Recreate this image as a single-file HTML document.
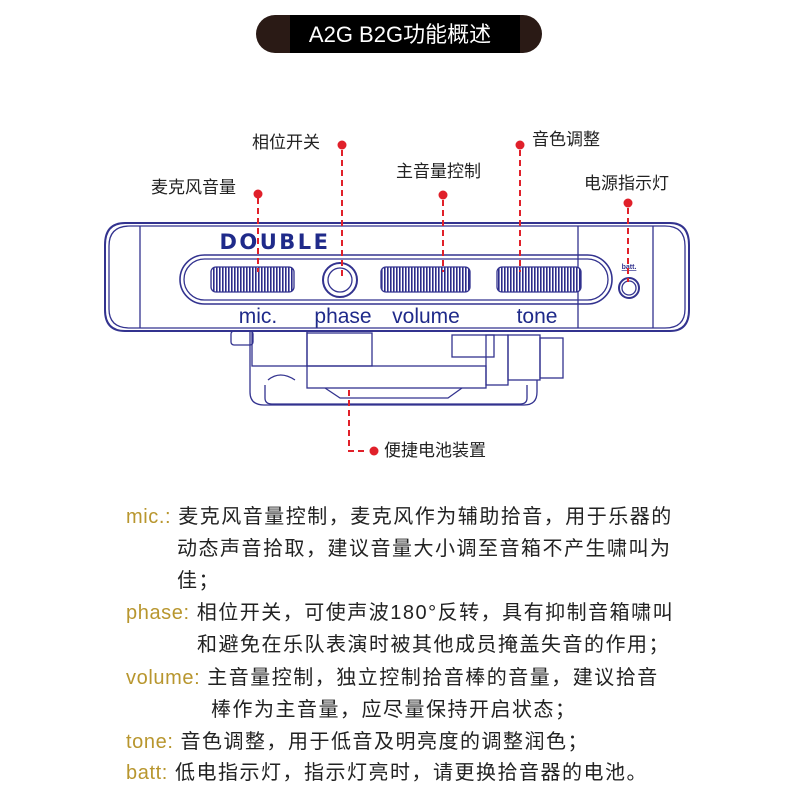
<!DOCTYPE html>
<html><head><meta charset="utf-8"><style>
body{margin:0;background:#fff;width:800px;height:800px;overflow:hidden;position:relative;font-family:"Liberation Sans","Noto Sans CJK SC",sans-serif}
.t{position:absolute;font-size:20px;color:#222;white-space:nowrap;line-height:1;letter-spacing:1.5px}
.g{color:#b8962e;letter-spacing:0.6px}
.l{position:absolute;font-size:17px;color:#222;white-space:nowrap;line-height:1}
</style></head><body>
<svg width="800" height="800" style="position:absolute;left:0;top:0">
<defs>
<pattern id="k" width="3" height="10" patternUnits="userSpaceOnUse"><rect width="3" height="10" fill="#fff"/><rect width="1.6" height="10" fill="#2b2b8a"/></pattern>
</defs>
<rect x="256" y="15" width="286" height="38" rx="19" fill="#2a1a15"/>
<rect x="290" y="15" width="230" height="38" fill="#000"/>
<text x="400" y="42" font-size="22" fill="#fff" text-anchor="middle" font-family="Liberation Sans,Noto Sans CJK SC,sans-serif">A2G B2G功能概述</text>
<g fill="none" stroke="#33338f" stroke-width="1.3">
<path d="M125 223 H670 Q689 223 689 245 V310 Q689 331 670 331 H125 Q105 331 105 310 V245 Q105 223 125 223Z" stroke-width="2"/>
<path d="M130 226 H665 Q685 226 685 246 V309 Q685 328 665 328 H130 Q109 328 109 309 V246 Q109 226 130 226Z"/>
<line x1="140" y1="226" x2="140" y2="328"/><line x1="578" y1="226" x2="578" y2="328"/><line x1="653" y1="226" x2="653" y2="328"/>
<rect x="180" y="255" width="432" height="49" rx="24.5" stroke-width="1.6"/>
<rect x="184" y="259" width="424" height="41" rx="20.5"/>
<rect x="211" y="267" width="83" height="25" rx="5" fill="url(#k)"/>
<rect x="381" y="267" width="89" height="25" rx="5" fill="url(#k)"/>
<rect x="497" y="267" width="84" height="25" rx="5" fill="url(#k)"/>
<circle cx="340" cy="280" r="17" stroke-width="2"/><circle cx="340" cy="280" r="12"/>
<circle cx="629" cy="288" r="10" stroke-width="2"/><circle cx="629" cy="288" r="7"/>
<rect x="231" y="331" width="22" height="14" rx="3"/>
<path d="M250 331 V392 Q250 405 264 405 H524 Q537 405 537 392 V380"/>
<path d="M265 385 V398 Q265 404 272 404 H520 Q527 404 527 398 V385"/>
<rect x="252" y="331" width="55" height="35"/>
<rect x="307" y="333" width="65" height="33"/>
<rect x="307" y="366" width="179" height="22"/>
<path d="M325 388 L340 398 H448 L462 388"/>
<rect x="452" y="335" width="42" height="22"/>
<rect x="486" y="335" width="22" height="50"/>
<rect x="508" y="335" width="32" height="45"/>
<rect x="540" y="338" width="23" height="40"/>
<path d="M268 380 Q280 370 295 380"/>
</g>
<text x="275" y="249" font-size="21" font-weight="bold" fill="#1f2a8a" text-anchor="middle" font-family="DejaVu Sans,sans-serif" letter-spacing="2.5">DOUBLE</text>
<text x="629" y="269" font-size="7" font-weight="bold" fill="#33338f" text-anchor="middle" text-decoration="underline">batt.</text>
<g font-size="21" fill="#1f2a8a" text-anchor="middle" font-family="Liberation Sans,sans-serif">
<text x="258" y="323">mic.</text><text x="343" y="323">phase</text><text x="426" y="323">volume</text><text x="537" y="323">tone</text>
</g>
<g stroke="#e0202a" stroke-width="2" stroke-dasharray="6,4" fill="none">
<line x1="258" y1="198" x2="258" y2="272"/>
<line x1="342" y1="150" x2="342" y2="276"/>
<line x1="443" y1="200" x2="443" y2="272"/>
<line x1="520" y1="150" x2="520" y2="272"/>
<line x1="628" y1="208" x2="628" y2="282"/>
<path d="M349 390 V451 H368"/>
</g>
<g fill="#e0202a">
<circle cx="258" cy="194" r="4.5"/><circle cx="342" cy="145" r="4.5"/><circle cx="443" cy="195" r="4.5"/><circle cx="520" cy="145" r="4.5"/><circle cx="628" cy="203" r="4.5"/><circle cx="374" cy="451" r="4.5"/>
</g>
</svg>
<div class="l" style="left:151px;top:179px">麦克风音量</div>
<div class="l" style="left:252px;top:134px">相位开关</div>
<div class="l" style="left:396px;top:163px">主音量控制</div>
<div class="l" style="left:532px;top:131px">音色调整</div>
<div class="l" style="left:584px;top:175px">电源指示灯</div>
<div class="l" style="left:384px;top:442px">便捷电池装置</div>
<div class="t" style="left:126px;top:507px"><span class="g">mic.:</span> 麦克风音量控制，麦克风作为辅助拾音，用于乐器的</div>
<div class="t" style="left:177px;top:539px">动态声音拾取，建议音量大小调至音箱不产生啸叫为</div>
<div class="t" style="left:177px;top:571px">佳；</div>
<div class="t" style="left:126px;top:603px"><span class="g">phase:</span> 相位开关，可使声波180°反转，具有抑制音箱啸叫</div>
<div class="t" style="left:197px;top:635px">和避免在乐队表演时被其他成员掩盖失音的作用；</div>
<div class="t" style="left:126px;top:668px"><span class="g">volume:</span> 主音量控制，独立控制拾音棒的音量，建议拾音</div>
<div class="t" style="left:211px;top:700px">棒作为主音量，应尽量保持开启状态；</div>
<div class="t" style="left:126px;top:732px"><span class="g">tone:</span> 音色调整，用于低音及明亮度的调整润色；</div>
<div class="t" style="left:126px;top:763px"><span class="g">batt:</span> 低电指示灯，指示灯亮时，请更换拾音器的电池。</div>
</body></html>
